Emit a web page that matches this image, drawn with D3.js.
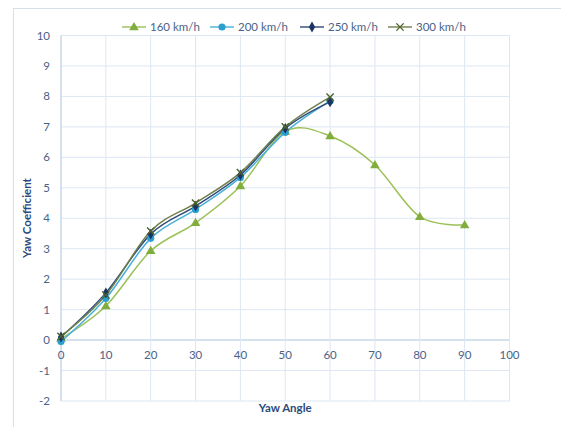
<!DOCTYPE html>
<html><head><meta charset="utf-8">
<script src="https://cdn.jsdelivr.net/npm/d3@7"></script>
<style>body{margin:0;background:#fff}svg{display:block}text{font-family:Lato,"Open Sans","Liberation Sans",sans-serif}</style>
</head><body><div id="c"></div>
<script>
const angles = [0,10,20,30,40,50,60,70,80,90];
const s160 = [0.05,1.12,2.93,3.85,5.06,6.85,6.70,5.75,4.05,3.78];
const s200 = [-0.05,1.37,3.34,4.29,5.34,6.82,7.85];
const s250 = [0.10,1.55,3.48,4.40,5.42,6.95,7.82];
const s300 = [0.12,1.48,3.58,4.50,5.50,7.00,7.98];
const seriesNames = ["160 km/h","200 km/h","250 km/h","300 km/h"];
const xTicks = [0,10,20,30,40,50,60,70,80,90,100];
const yTicks = [-2,-1,0,1,2,3,4,5,6,7,8,9,10];

const W=561,H=427;
const svg=d3.select("#c").append("svg").attr("width",W).attr("height",H);
svg.append("rect").attr("x",13.5).attr("y",8.5).attr("width",W).attr("height",H).attr("fill","#fff").attr("stroke","#d9dfe8");

const x=d3.scaleLinear().domain([0,100]).range([61,509.5]);
const y=d3.scaleLinear().domain([-2,10]).range([401,35.5]);

const g=svg.append("g");
yTicks.forEach(t=>{
  g.append("line").attr("x1",x(0)).attr("x2",x(100)).attr("y1",y(t)).attr("y2",y(t))
   .attr("stroke",t===0?"#c9d7ea":"#dde7f3").attr("stroke-width",t===0?1.5:1);
  g.append("text").attr("x",50).attr("y",y(t)).attr("dy","0.35em").attr("text-anchor","end")
   .attr("font-size",11.5).attr("fill","#4a6288").text(t);
});
xTicks.forEach(t=>{
  g.append("line").attr("x1",x(t)).attr("x2",x(t)).attr("y1",y(-2)).attr("y2",y(10))
   .attr("stroke",t===0?"#c9d7ea":"#dde7f3").attr("stroke-width",t===0?1.5:1);
  g.append("text").attr("x",x(t)).attr("y",y(0)+15).attr("dy","0.35em").attr("text-anchor","middle")
   .attr("font-size",11.5).attr("fill","#4a6288").text(t);
});

svg.append("text").attr("x",x(50)).attr("y",412).attr("text-anchor","middle").attr("font-size",11.5)
 .attr("font-weight","bold").attr("fill","#2c4a7c").text("Yaw Angle");
svg.append("text").attr("transform","translate(31,218) rotate(-90)").attr("text-anchor","middle")
 .attr("font-size",11.5).attr("font-weight","bold").attr("fill","#2c4a7c").text("Yaw Coefficient");

const cols=[{line:"#9cc058",mk:"#80ad3c",shape:"tri"},
            {line:"#4ab0da",mk:"#2b9fce",shape:"circ"},
            {line:"#2e4a7a",mk:"#1b3463",shape:"dia"},
            {line:"#6f7f4c",mk:"#4f6228",shape:"x"}];
const data=[s160,s200,s250,s300];
const line=d3.line().x(d=>x(d[0])).y(d=>y(d[1])).curve(d3.curveCardinal.tension(0));

function marker(sel,shape,cx,cy,c){
  if(shape==="tri") sel.append("path").attr("d",d3.symbol(d3.symbolTriangle,40)()).attr("transform",`translate(${cx},${cy+0.5})`).attr("fill",c);
  else if(shape==="circ") sel.append("circle").attr("cx",cx).attr("cy",cy).attr("r",3.6).attr("fill",c);
  else if(shape==="dia") sel.append("path").attr("d",d3.symbol(d3.symbolDiamond,34)()).attr("transform",`translate(${cx},${cy})`).attr("fill",c);
  else sel.append("path").attr("d",d3.symbol(d3.symbolX,36)()).attr("transform",`translate(${cx},${cy})`).attr("fill","none").attr("stroke",c).attr("stroke-width",1.4);
}

data.forEach((s,i)=>{
  const pts=s.map((v,j)=>[angles[j],v]);
  svg.append("path").attr("d",line(pts)).attr("fill","none").attr("stroke",cols[i].line).attr("stroke-width",1.5);
});
data.forEach((s,i)=>{
  s.forEach((v,j)=>marker(svg,cols[i].shape,x(angles[j]),y(v),cols[i].mk));
});

const legX=[122,210,300,388];
seriesNames.forEach((n,i)=>{
  const lx=legX[i], ly=27;
  svg.append("line").attr("x1",lx).attr("x2",lx+24).attr("y1",ly).attr("y2",ly).attr("stroke",cols[i].line).attr("stroke-width",1.4);
  marker(svg,cols[i].shape,lx+12,ly,cols[i].mk);
  svg.append("text").attr("x",lx+28).attr("y",ly).attr("dy","0.35em").attr("font-size",11.5).attr("fill","#4a6288").text(n);
});
</script></body></html>
